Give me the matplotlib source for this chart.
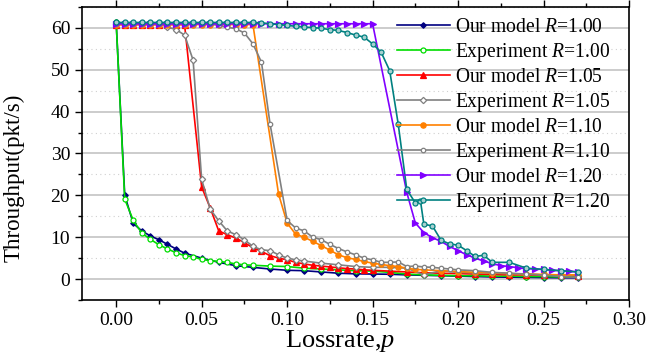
import numpy as np
import matplotlib
matplotlib.use("Agg")
import matplotlib.pyplot as plt
from matplotlib.ticker import MultipleLocator, FormatStrFormatter

plt.rcParams['font.family'] = ['Liberation Serif', 'DejaVu Serif']
plt.rcParams['mathtext.fontset'] = 'custom'
plt.rcParams['mathtext.it'] = 'Liberation Serif:italic'
plt.rcParams['mathtext.rm'] = 'Liberation Serif'

# R = 1.00
x_m100 = [0, 0.005, 0.01, 0.015, 0.02, 0.025, 0.03, 0.035, 0.04, 0.05, 0.06, 0.07, 0.08, 0.09,
          0.10, 0.11, 0.12, 0.13, 0.14, 0.15, 0.16, 0.17, 0.18, 0.19, 0.20, 0.21, 0.22, 0.23,
          0.24, 0.25, 0.26, 0.27]
y_m100 = [61.3, 20.0, 13.3, 11.5, 10.3, 9.4, 8.3, 7.2, 6.2, 5.0, 4.0, 3.2, 2.8, 2.4,
          2.1, 2.0, 1.7, 1.4, 1.25, 1.2, 1.15, 1.0, 0.9, 0.8, 0.7, 0.6, 0.5, 0.45,
          0.4, 0.35, 0.3, 0.3]
x_e100 = [0, 0.005, 0.01, 0.015, 0.02, 0.025, 0.03, 0.035, 0.04, 0.045, 0.05, 0.055, 0.06,
          0.065, 0.07, 0.075, 0.08, 0.09, 0.10, 0.11, 0.12, 0.13, 0.14, 0.15, 0.16, 0.17,
          0.18, 0.19, 0.20, 0.21, 0.22, 0.23, 0.24, 0.25, 0.26, 0.27]
y_e100 = [61.3, 19.1, 14.0, 11.0, 9.5, 8.2, 7.2, 6.3, 5.6, 5.3, 4.7, 4.4, 4.2,
          4.0, 3.6, 3.4, 3.3, 3.1, 3.0, 2.6, 2.4, 2.2, 2.0, 1.9, 1.6, 1.2,
          1.0, 0.9, 0.8, 0.8, 0.7, 0.7, 0.6, 0.6, 0.5, 0.5]

# R = 1.05
x_m105 = [0, 0.005, 0.01, 0.015, 0.02, 0.025, 0.03, 0.035, 0.04, 0.05, 0.055, 0.06, 0.065,
          0.07, 0.075, 0.08, 0.085, 0.09, 0.095, 0.10, 0.105, 0.11, 0.115, 0.12, 0.125,
          0.13, 0.135, 0.14, 0.145, 0.15, 0.16, 0.17, 0.18, 0.19, 0.20, 0.21, 0.22, 0.23,
          0.24, 0.25, 0.26, 0.27]
y_m105 = [60.8, 60.8, 60.8, 60.8, 60.8, 60.8, 60.8, 60.8, 60.8, 22.0, 17.0, 11.5, 10.6,
          9.8, 8.7, 7.5, 6.6, 5.6, 5.0, 4.6, 4.0, 3.6, 3.3, 3.1, 2.9,
          2.7, 2.5, 2.4, 2.2, 2.1, 1.9, 1.7, 1.5, 1.4, 1.3, 1.2, 1.1, 1.0,
          1.0, 0.9, 0.9, 0.8]
x_e105 = [0, 0.005, 0.01, 0.015, 0.02, 0.025, 0.03, 0.035, 0.04, 0.045, 0.05, 0.055, 0.06,
          0.065, 0.07, 0.075, 0.08, 0.085, 0.09, 0.095, 0.10, 0.105, 0.11, 0.12, 0.13,
          0.14, 0.15, 0.16, 0.17, 0.18, 0.19, 0.20, 0.21, 0.22, 0.23, 0.24, 0.25, 0.26, 0.27]
y_e105 = [61.0, 61.0, 61.0, 61.0, 61.0, 61.0, 60.2, 59.6, 58.3, 52.3, 23.8, 16.7, 13.9,
          11.5, 10.6, 9.4, 7.8, 7.0, 6.8, 5.8, 5.0, 4.6, 4.3, 3.8, 3.4,
          3.0, 2.8, 2.8, 2.6, 1.0, 2.0, 1.6, 1.5, 1.4, 1.3, 1.2, 1.0, 0.9, 0.8]

# R = 1.10
x_m110 = [0, 0.005, 0.01, 0.015, 0.02, 0.025, 0.03, 0.035, 0.04, 0.045, 0.05, 0.055, 0.06,
          0.065, 0.07, 0.075, 0.08, 0.095, 0.10, 0.105, 0.11, 0.115, 0.12, 0.125, 0.13,
          0.135, 0.14, 0.145, 0.15, 0.155, 0.16, 0.165, 0.17, 0.175, 0.18, 0.19, 0.20,
          0.21, 0.22, 0.23, 0.24, 0.25, 0.26, 0.27]
y_m110 = [60.8, 60.8, 60.8, 60.8, 60.8, 60.8, 60.8, 60.8, 60.8, 60.8, 60.8, 60.8, 60.8,
          60.8, 60.8, 60.8, 60.8, 20.3, 13.4, 10.7, 10.0, 9.0, 8.0, 6.9, 5.8,
          5.1, 4.7, 4.2, 3.8, 3.5, 3.2, 3.0, 2.6, 2.3, 2.2, 2.0, 1.8,
          1.6, 1.5, 1.3, 1.2, 1.1, 1.0, 1.0]
x_e110 = [0, 0.005, 0.01, 0.015, 0.02, 0.025, 0.03, 0.035, 0.04, 0.045, 0.05, 0.055, 0.06,
          0.065, 0.07, 0.075, 0.08, 0.085, 0.09, 0.10, 0.105, 0.11, 0.115, 0.12, 0.125,
          0.13, 0.135, 0.14, 0.145, 0.15, 0.155, 0.16, 0.165, 0.17, 0.175, 0.18, 0.185,
          0.19, 0.195, 0.20, 0.21, 0.22, 0.23, 0.24, 0.25, 0.26, 0.27]
y_e110 = [61.0, 61.0, 61.0, 61.0, 61.0, 61.0, 61.0, 61.0, 61.0, 61.0, 61.0, 61.0, 60.6,
          60.2, 59.8, 58.8, 56.2, 51.8, 37.1, 14.0, 12.2, 11.5, 10.0, 9.4, 8.3,
          7.3, 6.5, 5.8, 5.0, 4.6, 4.0, 4.0, 4.1, 3.0, 3.1, 2.9, 2.8,
          2.6, 2.4, 2.2, 2.0, 1.6, 1.4, 1.2, 0.96, 0.6, 0.4]

# R = 1.20
x_m120 = [0, 0.005, 0.01, 0.015, 0.02, 0.025, 0.03, 0.035, 0.04, 0.045, 0.05, 0.055, 0.06,
          0.065, 0.07, 0.075, 0.08, 0.085, 0.09, 0.095, 0.10, 0.105, 0.11, 0.115, 0.12,
          0.125, 0.13, 0.135, 0.14, 0.145, 0.15, 0.17, 0.175, 0.18, 0.185, 0.19, 0.195,
          0.20, 0.205, 0.21, 0.215, 0.22, 0.225, 0.23, 0.235, 0.24, 0.245, 0.25, 0.255,
          0.26, 0.265, 0.27]
y_m120 = [61.0, 61.0, 61.0, 61.0, 61.0, 61.0, 61.0, 61.0, 61.0, 61.0, 61.0, 61.0, 61.0,
          61.0, 61.0, 61.0, 61.0, 61.0, 61.0, 61.0, 61.0, 61.0, 61.0, 61.0, 61.0,
          61.0, 61.0, 61.0, 61.0, 61.0, 61.0, 20.7, 13.4, 11.1, 9.9, 9.0, 7.8,
          6.8, 5.8, 5.0, 4.3, 3.7, 3.2, 3.0, 2.7, 2.5, 2.4, 2.3, 2.1,
          2.0, 1.9, 1.7]
x_e120 = [0, 0.005, 0.01, 0.015, 0.02, 0.025, 0.03, 0.035, 0.04, 0.045, 0.05, 0.055, 0.06,
          0.065, 0.07, 0.075, 0.08, 0.085, 0.09, 0.095, 0.10, 0.105, 0.11, 0.115, 0.12,
          0.125, 0.13, 0.135, 0.14, 0.145, 0.15, 0.155, 0.16, 0.165, 0.17, 0.175, 0.178,
          0.18, 0.185, 0.19, 0.195, 0.20, 0.205, 0.21, 0.215, 0.22, 0.23, 0.24, 0.25,
          0.26, 0.27]
y_e120 = [61.3, 61.3, 61.3, 61.3, 61.3, 61.3, 61.3, 61.3, 61.3, 61.3, 61.3, 61.3, 61.3,
          61.3, 61.3, 61.3, 61.3, 61.2, 61.0, 60.8, 60.6, 60.4, 60.2, 60.1, 59.9,
          59.6, 59.4, 58.9, 58.3, 57.8, 56.2, 54.2, 49.8, 37.0, 21.4, 18.2, 18.7,
          13.1, 12.7, 9.3, 8.4, 8.1, 6.8, 5.4, 5.7, 4.0, 4.0, 2.6, 2.3,
          2.0, 1.7]

series = [
    (x_m100, y_m100, '#000080', 'D', '#000080', 2.8, r'Our model $R$=1.00'),
    (x_e100, y_e100, '#00dd00', 'o', 'white', 3.6, r'Experiment $R$=1.00'),
    (x_m105, y_m105, '#ff0000', '^', '#ff0000', 4.0, r'Our model $R$=1.05'),
    (x_e105, y_e105, '#808080', 'D', 'white', 3.2, r'Experiment $R$=1.05'),
    (x_m110, y_m110, '#ff8000', 'o', '#ff8000', 3.8, r'Our model $R$=1.10'),
    (x_e110, y_e110, '#808080', 'o', 'white', 3.2, r'Experiment $R$=1.10'),
    (x_m120, y_m120, '#8000ff', '>', '#8000ff', 4.0, r'Our model $R$=1.20'),
    (x_e120, y_e120, '#008080', 'o', '#a8d0d0', 3.6, r'Experiment $R$=1.20'),
]

fig = plt.figure(figsize=(6.49, 3.58), dpi=100)
ax = fig.add_axes([82 / 649, 58 / 358, 547 / 649, 293 / 358])

for x, y, c, m, fc, ms, lab in series:
    ax.plot(x, y, color=c, lw=1.2, marker=m, ms=ms, mfc=fc, mec=c, mew=0.9, label=lab)

ax.set_xlim(-0.02, 0.30)
ax.set_ylim(-5, 65)
ax.xaxis.set_major_locator(MultipleLocator(0.05))
ax.xaxis.set_minor_locator(MultipleLocator(0.025))
ax.yaxis.set_major_locator(MultipleLocator(10))
ax.yaxis.set_minor_locator(MultipleLocator(5))
ax.xaxis.set_major_formatter(FormatStrFormatter('%.2f'))

ax.grid(True, which='major', axis='y', color='#c4c4c4', lw=1.2)
ax.grid(True, which='minor', axis='y', color='#d0d0d0', lw=0.8, ls=(0, (1, 3)))
ax.set_axisbelow(True)

ax.tick_params(axis='both', which='major', labelsize=14, length=5, width=1)
ax.tick_params(axis='both', which='minor', length=3, width=1)
ax.tick_params(top=True, which='both', direction='in')
ax.tick_params(bottom=True, left=True, which='both', direction='out')
for sp in ax.spines.values():
    sp.set_linewidth(1.2)

ax.set_xlabel(r'Lossrate,$p$', fontsize=19)
ax.xaxis.set_label_coords((340 - 82) / 547, -0.095)
ax.set_ylabel('Throughput(pkt/s)', fontsize=16.5)
ax.yaxis.set_label_coords(-0.105, (300 - 178) / 293)

ax.legend(loc='upper left', bbox_to_anchor=(0.572, 0.968), frameon=False, fontsize=14.1,
          handlelength=2.7, handletextpad=0.25, labelspacing=0.2, borderpad=0.1,
          borderaxespad=0.0, numpoints=1)

fig.savefig('out.png', dpi=100)
